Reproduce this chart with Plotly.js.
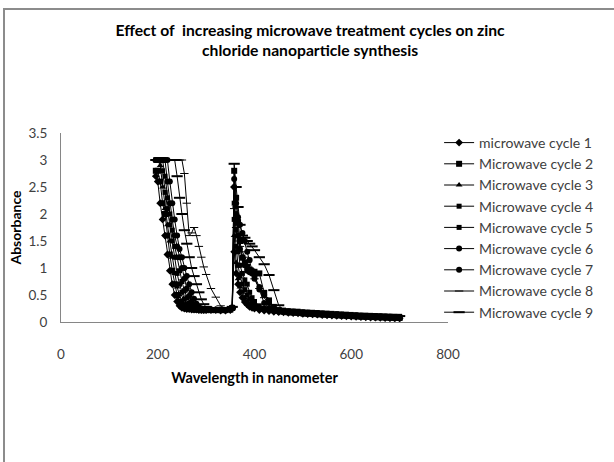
<!DOCTYPE html>
<html>
<head>
<meta charset="utf-8">
<script src="https://cdn.plot.ly/plotly-3.0.1.min.js"></script>
<style>
  html, body { margin: 0; padding: 0; background: #fff; }
  #chart { width: 614px; height: 462px; position: absolute; left: 0; top: 0; }
  #frame { position: absolute; left: 3px; top: 8px; width: 700px; height: 600px;
           border-left: 2px solid #8c8c8c; border-top: 2px solid #8c8c8c; pointer-events: none; }
</style>
</head>
<body>
<div id="chart"></div>
<div id="frame"></div>
<script>
// Wavelength (nm), shared by all series
const wavelength = [196,200,205,210,215,220,225,230,235,240,245,250,255,260,265,270,275,280,285,290,295,300,
  310,320,330,340,350,
  354,358,362,366,370,
  375,380,385,390,395,400,
  410,420,430,440,450,460,470,480,490,500,510,520,530,540,550,560,570,580,590,600,610,620,630,640,650,660,670,680,690,700];

const seriesNames = ["microwave cycle 1","Microwave cycle 2","Microwave cycle 3","Microwave cycle 4","Microwave cycle 5",
  "Microwave cycle 6","Microwave cycle 7","Microwave cycle 8","Microwave cycle 9"];

const cycle1 = [2.7,2.6,2.2,1.9,1.6,1.25,0.95,0.7,0.5,0.38,0.3,0.26,0.25,0.24,0.24,0.23,0.23,0.23,0.22,0.22,0.22,0.22,
  0.22,0.22,0.21,0.21,0.22,
  0.25,1.3,0.9,0.7,0.55,
  0.45,0.37,0.32,0.28,0.26,0.25,
  0.22,0.21,0.2,0.19,0.185,0.18,0.17,0.165,0.16,0.15,0.145,0.14,0.135,0.13,0.125,0.12,0.115,0.11,0.105,0.1,0.095,0.09,0.087,0.083,0.08,0.077,0.074,0.07,0.067,0.065];

const cycle2 = [2.8,2.8,2.6,2.2,2.0,1.6,1.25,0.95,0.7,0.5,0.38,0.3,0.27,0.25,0.24,0.24,0.23,0.23,0.23,0.22,0.22,0.22,
  0.22,0.22,0.22,0.22,0.23,
  0.26,2.8,2.3,1.85,1.5,
  1.19,1.1,1.02,0.97,0.93,0.93,
  0.9,0.54,0.4,0.28,0.22,0.19,0.18,0.175,0.17,0.16,0.155,0.15,0.145,0.14,0.135,0.13,0.125,0.12,0.115,0.11,0.105,0.1,0.097,0.093,0.09,0.087,0.084,0.08,0.077,0.075];

const cycle3 = [3,3,2.9,2.5,2.1,1.8,1.5,1.2,0.9,0.65,0.5,0.38,0.3,0.27,0.25,0.24,0.24,0.23,0.23,0.23,0.22,0.22,
  0.22,0.23,0.22,0.22,0.23,
  0.25,1.6,1.1,0.8,0.65,
  0.55,0.45,0.38,0.32,0.28,0.26,
  0.24,0.23,0.22,0.21,0.205,0.2,0.19,0.185,0.18,0.17,0.165,0.16,0.155,0.15,0.145,0.14,0.135,0.13,0.125,0.12,0.115,0.11,0.107,0.103,0.1,0.097,0.094,0.09,0.087,0.085];

const cycle4 = [3,3,3,2.8,2.4,2.1,1.8,1.5,1.2,0.9,0.7,0.55,0.42,0.33,0.28,0.25,0.24,0.24,0.23,0.23,0.23,0.23,
  0.23,0.23,0.22,0.23,0.24,
  0.27,1.9,1.4,1.05,0.85,
  0.7,0.6,0.5,0.42,0.35,0.3,
  0.25,0.24,0.23,0.22,0.215,0.21,0.2,0.195,0.19,0.18,0.175,0.17,0.165,0.16,0.155,0.15,0.145,0.14,0.135,0.13,0.125,0.12,0.117,0.113,0.11,0.107,0.104,0.1,0.097,0.095];

const cycle5 = [3,3,3,3,2.7,2.3,2.0,1.7,1.4,1.2,0.95,0.75,0.58,0.45,0.35,0.29,0.26,0.25,0.24,0.24,0.23,0.23,
  0.23,0.23,0.23,0.23,0.24,
  0.27,2.2,1.7,1.3,1.05,
  0.9,0.78,0.7,0.55,0.45,0.38,
  0.3,0.25,0.24,0.23,0.225,0.22,0.21,0.205,0.2,0.19,0.185,0.18,0.175,0.17,0.165,0.16,0.155,0.15,0.145,0.14,0.135,0.13,0.127,0.123,0.12,0.117,0.114,0.11,0.107,0.105];

const cycle6 = [3,3,3,3,3,2.6,2.2,1.9,1.6,1.4,1.2,1.0,0.8,0.62,0.48,0.38,0.31,0.27,0.25,0.24,0.24,0.23,
  0.23,0.22,0.22,0.22,0.23,
  0.26,2.5,2.0,1.6,1.35,
  1.2,1.05,0.95,0.92,0.9,0.8,
  0.6,0.35,0.25,0.2,0.19,0.185,0.175,0.17,0.165,0.155,0.15,0.145,0.14,0.135,0.13,0.125,0.12,0.115,0.11,0.105,0.1,0.095,0.092,0.088,0.085,0.082,0.079,0.075,0.072,0.07];

const cycle7 = [3,3,3,3,3,3,2.6,2.2,1.9,1.6,1.35,1.2,1.0,0.85,0.7,0.55,0.43,0.34,0.28,0.25,0.24,0.24,
  0.23,0.23,0.23,0.22,0.24,
  0.27,2.65,2.2,1.94,1.8,
  1.65,1.5,1.3,1.15,0.95,0.85,
  0.65,0.5,0.35,0.25,0.21,0.205,0.195,0.19,0.185,0.175,0.17,0.165,0.16,0.155,0.15,0.145,0.14,0.135,0.13,0.125,0.12,0.115,0.112,0.108,0.105,0.102,0.099,0.095,0.092,0.09];

const cycle8 = [3,3,3,3,3,3,3,3,3,3,3,3,2.75,2.2,1.6,1.65,1.75,1.6,1.4,1.2,1.02,0.88,
  0.62,0.46,0.3,0.25,0.24,
  0.27,2.1,1.75,1.5,1.4,
  1.3,1.2,1.1,1.0,0.9,0.8,
  0.62,0.45,0.32,0.24,0.22,0.215,0.205,0.2,0.195,0.185,0.18,0.175,0.17,0.165,0.16,0.155,0.15,0.145,0.14,0.135,0.13,0.125,0.122,0.118,0.115,0.112,0.109,0.105,0.102,0.1];

const cycle9 = [3,3,3,3,3,3,3,3,3,2.7,2.3,2.0,1.7,1.45,1.2,1.0,0.85,0.7,0.55,0.42,0.33,0.28,
  0.25,0.24,0.24,0.24,0.25,
  0.28,2.93,2.5,2.13,1.8,
  1.6,1.56,1.5,1.45,1.4,1.33,
  1.2,1.07,0.87,0.59,0.31,0.22,0.215,0.21,0.2,0.195,0.19,0.185,0.18,0.175,0.17,0.165,0.16,0.155,0.15,0.145,0.14,0.135,0.132,0.128,0.125,0.122,0.119,0.115,0.112,0.11];

const xTicks = [0,200,400,600,800];
const yTicks = [0,0.5,1,1.5,2,2.5,3,3.5];
const yTickText = ["0","0.5","1","1.5","2","2.5","3","3.5"];

const allSeries = [cycle1,cycle2,cycle3,cycle4,cycle5,cycle6,cycle7,cycle8,cycle9];
const markerStyles = [
  {symbol:"diamond", size:6},
  {symbol:"square", size:6},
  {symbol:"triangle-up", size:6},
  {symbol:"square", size:5},
  {symbol:"square", size:5},
  {symbol:"circle", size:6},
  {symbol:"circle", size:6},
  {symbol:"line-ew", size:6, lw:1},
  {symbol:"line-ew", size:8, lw:2}
];

const traces = allSeries.map((ys, i) => {
  const m = markerStyles[i];
  return {
    type: "scatter", mode: "lines+markers",
    name: seriesNames[i],
    x: wavelength, y: ys,
    line: {color: "#000", width: 1},
    marker: {symbol: m.symbol, size: m.size, color: "#000",
             line: {color: "#000", width: m.lw !== undefined ? m.lw : 0}}
  };
});

const font = "Lato, 'Open Sans', sans-serif";
const layout = {
  width: 614, height: 462,
  margin: {l: 61, r: 166, t: 133, b: 140, pad: 0},
  paper_bgcolor: "#fff", plot_bgcolor: "#fff",
  showlegend: true,
  font: {family: font, size: 13, color: "#404040"},
  title: {
    text: "<b>Effect of  increasing microwave treatment cycles on zinc<br>chloride nanoparticle synthesis</b>",
    font: {family: font, size: 15.7, color: "#000"},
    x: 0.505, xanchor: "center", xref: "container",
    y: 0.922, yanchor: "middle", yref: "container"
  },
  xaxis: {
    range: [0, 800], tickvals: xTicks, ticktext: xTicks.map(String),
    showgrid: false, zeroline: false, showline: true, linecolor: "#868686", linewidth: 1,
    ticks: "", ticklabelstandoff: 20,
    tickfont: {family: font, size: 13.5, color: "#404040"},
    title: {text: "<b>Wavelength in nanometer</b>", font: {family: font, size: 14.5, color: "#000"}, standoff: 11}
  },
  yaxis: {
    range: [0, 3.5], tickvals: yTicks, ticktext: yTickText,
    showgrid: false, zeroline: false, showline: true, linecolor: "#868686", linewidth: 1,
    ticks: "", ticklabelstandoff: 10,
    tickfont: {family: font, size: 13.5, color: "#404040"},
    title: {text: "<b>Absorbance</b>", font: {family: font, size: 14, color: "#000"}, standoff: 3}
  },
  legend: {
    x: 0.977, xanchor: "left", y: 0.5, yanchor: "middle",
    font: {family: font, size: 14, color: "#404040"},
    bgcolor: "rgba(0,0,0,0)", borderwidth: 0, itemwidth: 30, maxheight: 440
  }
};

Plotly.newPlot("chart", traces, layout, {displayModeBar: false, staticPlot: true});
</script>
</body>
</html>
